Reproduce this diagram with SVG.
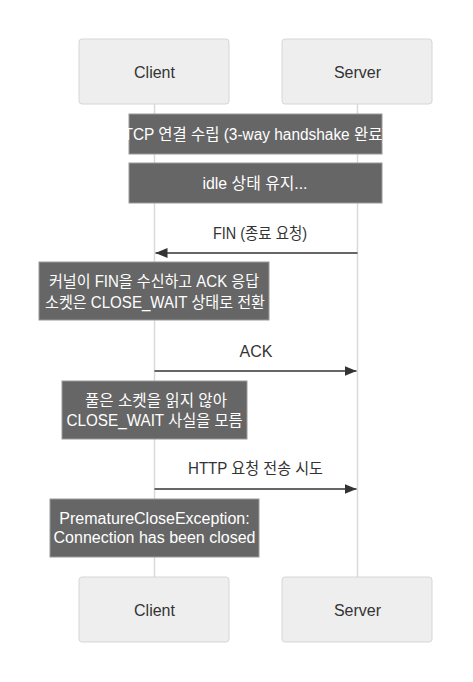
<svg xmlns="http://www.w3.org/2000/svg" width="473" height="682" viewBox="0 0 473 682">
<style>
text{font-family:"Liberation Sans","Noto Sans CJK KR",Arial,sans-serif;font-size:16px;text-anchor:middle;dominant-baseline:central}
.actor{fill:#eeeeee;stroke:#d6d6d6;stroke-width:1}
.atxt{fill:#333333}
.life{stroke:#d9d9d9;stroke-width:1.5}
.note{fill:#666666;stroke:#999999;stroke-width:1}
.ntxt{fill:#ffffff}
.msg{stroke:#333333;stroke-width:1.5;fill:none}
.mtxt{fill:#333333}
</style>
<defs>
<marker id="ah" viewBox="0 0 12 10" refX="12" refY="5" markerWidth="12" markerHeight="10" markerUnits="userSpaceOnUse" orient="auto">
<path d="M0,0 L12,5 L0,10 z" fill="#333333"/>
</marker>
</defs>
<rect width="473" height="682" fill="#ffffff"/>
<g id="lifelines">
<line class="life" x1="154.5" y1="104" x2="154.5" y2="577"/>
<line class="life" x1="357.5" y1="104" x2="357.5" y2="577"/>
</g>
<g id="client-top"><rect class="actor" x="79" y="39" width="150" height="65" rx="3"/><text class="atxt" x="154.5" y="72">Client</text></g>
<g id="server-top"><rect class="actor" x="282" y="39" width="150" height="65" rx="3"/><text class="atxt" x="357.5" y="72">Server</text></g>
<g id="note-tcp"><rect class="note" x="129" y="114" width="253" height="40"/><text class="ntxt" x="255.5" y="134" textLength="264" lengthAdjust="spacingAndGlyphs">TCP 연결 수립 (3-way handshake 완료)</text></g>
<g id="note-idle"><rect class="note" x="129" y="163" width="253" height="40"/><text class="ntxt" x="255" y="183" textLength="105" lengthAdjust="spacingAndGlyphs">idle 상태 유지...</text></g>
<g id="note-kernel"><rect class="note" x="39" y="262" width="230" height="58"/><text class="ntxt" x="154" y="281" textLength="210" lengthAdjust="spacingAndGlyphs">커널이 FIN을 수신하고 ACK 응답</text><text class="ntxt" x="155" y="302" textLength="220" lengthAdjust="spacingAndGlyphs">소켓은 CLOSE_WAIT 상태로 전환</text></g>
<g id="note-pool"><rect class="note" x="62" y="381" width="185" height="58"/><text class="ntxt" x="156" y="400" textLength="142" lengthAdjust="spacingAndGlyphs">풀은 소켓을 읽지 않아</text><text class="ntxt" x="154.5" y="420" textLength="176" lengthAdjust="spacingAndGlyphs">CLOSE_WAIT 사실을 모름</text></g>
<g id="note-exc"><rect class="note" x="50" y="499" width="209" height="58"/><text class="ntxt" x="154.5" y="518">PrematureCloseException:</text><text class="ntxt" x="154.5" y="537">Connection has been closed</text></g>
<g id="connectors">
<line class="msg" x1="357.5" y1="253" x2="155.5" y2="253" marker-end="url(#ah)"/>
<text class="mtxt" x="260" y="233" textLength="94" lengthAdjust="spacingAndGlyphs">FIN (종료 요청)</text>
<line class="msg" x1="154.5" y1="371" x2="356.5" y2="371" marker-end="url(#ah)"/>
<text class="mtxt" x="256" y="351">ACK</text>
<line class="msg" x1="154.5" y1="489" x2="356.5" y2="489" marker-end="url(#ah)"/>
<text class="mtxt" x="255.5" y="468" textLength="135" lengthAdjust="spacingAndGlyphs">HTTP 요청 전송 시도</text>
</g>
<g id="client-bottom"><rect class="actor" x="79" y="577" width="150" height="65" rx="3"/><text class="atxt" x="154.5" y="610">Client</text></g>
<g id="server-bottom"><rect class="actor" x="282" y="577" width="150" height="65" rx="3"/><text class="atxt" x="357.5" y="610">Server</text></g>
</svg>
